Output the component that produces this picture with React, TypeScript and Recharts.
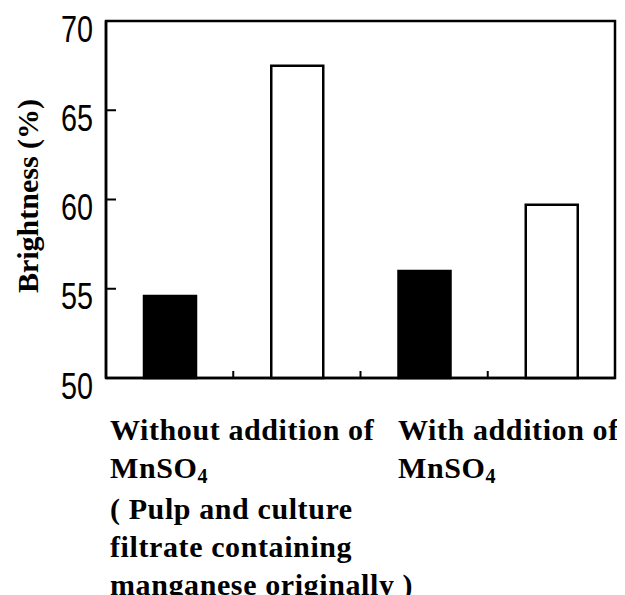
import React from 'react';
import { BarChart, Bar, Cell, XAxis, YAxis, ReferenceArea } from 'recharts';

// four bars, one per slot: black = control, white = treated
const categories = ['without-control', 'without-treated', 'with-control', 'with-treated'];
const brightness = [54.6, 67.5, 56.0, 59.7];
const filled = [true, false, true, false];
const yTicks = [50, 55, 60, 65, 70];

const data = categories.map((name, i) => ({ name, value: brightness[i] }));

const serif = "'Liberation Serif', 'Times New Roman', serif";
const sans = "'Liberation Sans', Arial, sans-serif";

// inward tick line + label outside the axis
const YTick = ({ x, y, payload }: any) => (
  <g>
    <line x1={x} x2={x + 10} y1={y} y2={y} stroke="#000" strokeWidth={2} />
    <text
      x={x - 13}
      y={y + 8}
      textAnchor="end"
      dominantBaseline="central"
      fontFamily={sans}
      fontSize={36}
      textLength={32}
      lengthAdjust="spacingAndGlyphs"
      fill="#000"
    >
      {payload.value}
    </text>
  </g>
);

// small inward tick on the boundary between two category slots
const SlotTick = ({ x, y, payload, index, visibleTicksCount }: any) => {
  const half = payload && typeof payload.offset === 'number' ? payload.offset : 0;
  if (!half || index >= visibleTicksCount - 1) return <g />;
  const bx = x + half;
  return <line x1={bx} x2={bx} y1={y} y2={y - 7} stroke="#000" strokeWidth={2} />;
};

const Sub4 = () => (
  <span style={{ fontSize: 20, position: 'relative', top: 5 }}>4</span>
);

const labelStyle: React.CSSProperties = {
  position: 'absolute',
  fontFamily: serif,
  fontWeight: 'bold',
  fontSize: 30,
  letterSpacing: 0.6,
  lineHeight: '38px',
  color: '#000',
  whiteSpace: 'nowrap',
};

export default function App() {
  return (
    <div style={{ position: 'relative', width: 617, height: 587 }}>
      <style>{'.recharts-surface{overflow:visible}'}</style>
      <BarChart width={617} height={380} data={data} margin={{ top: 13, right: 10, bottom: 9, left: 0 }} barSize={52}>
        <XAxis
          xAxisId="cat"
          dataKey="name"
          height={1}
          tickSize={0}
          tickMargin={0}
          tickLine={false}
          interval={0}
          tick={<SlotTick />}
          axisLine={{ stroke: '#000', strokeWidth: 2.5 }}
        />
        <YAxis
          yAxisId="left"
          domain={[50, 70]}
          ticks={yTicks}
          width={98}
          tickSize={0}
          tickMargin={0}
          tickLine={false}
          tick={<YTick />}
          axisLine={{ stroke: '#000', strokeWidth: 2.5 }}
        />
        {/* box round the plot */}
        <ReferenceArea
          xAxisId="cat"
          yAxisId="left"
          y1={yTicks[0]}
          y2={yTicks[yTicks.length - 1]}
          fill="none"
          fillOpacity={0}
          stroke="#000"
          strokeWidth={2.5}
          ifOverflow="visible"
        />
        <Bar dataKey="value" xAxisId="cat" yAxisId="left" isAnimationActive={false} stroke="#000" strokeWidth={2.5}>
          {data.map((d, i) => (
            <Cell key={d.name} fill={filled[i] ? '#000' : '#fff'} />
          ))}
        </Bar>
      </BarChart>

      <div
        style={{
          position: 'absolute',
          left: -100,
          top: 173,
          width: 240,
          lineHeight: '30px',
          textAlign: 'center',
          transform: 'rotate(-90deg)',
          fontFamily: serif,
          fontWeight: 'bold',
          fontSize: 30,
          whiteSpace: 'nowrap',
        }}
      >
        Brightness (%)
      </div>

      <div style={{ ...labelStyle, left: 102, top: 403 }}>
        Without addition of
        <br />
        MnSO<Sub4 />
        <br />
        ( Pulp and culture
        <br />
        filtrate containing
        <br />
        manganese originally )
      </div>
      <div style={{ ...labelStyle, left: 390, top: 403 }}>
        With addition of
        <br />
        MnSO<Sub4 />
      </div>
    </div>
  );
}
